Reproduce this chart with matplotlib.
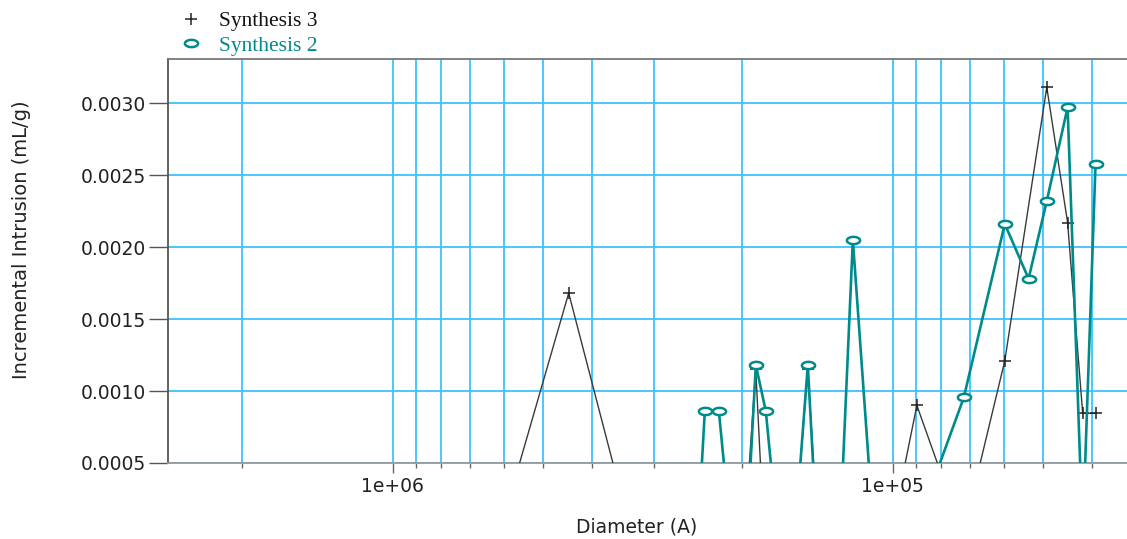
import numpy as np
import matplotlib

matplotlib.use("Agg")
import matplotlib.pyplot as plt  # noqa: E402
from matplotlib.lines import Line2D  # noqa: E402
from matplotlib.path import Path  # noqa: E402
from matplotlib.ticker import FixedLocator, NullFormatter  # noqa: E402

# pore diameter (A) and incremental intrusion (mL/g)
diam_s3 = [6.14e5, 4.45e5, 3.33e5, 1.98e5, 1.88e5, 1.81e5, 1.57e5, 1.48e5,
           1.41e5, 1.01e5, 8.95e4, 7.24e4, 5.97e4, 4.92e4, 4.47e4, 4.17e4, 3.93e4]
intr_s3 = [0.0, 0.00168, 0.0, 0.0, 0.00115, 0.0, 0.0, 0.00115,
           0.0, 0.0, 0.00090, 0.0, 0.00121, 0.00311, 0.00217, 0.000845, 0.000845]

diam_s2 = [2.455e5, 2.377e5, 2.228e5, 2.109e5, 1.96e5, 1.879e5, 1.795e5, 1.698e5,
           1.57e5, 1.479e5, 1.419e5, 1.276e5, 1.202e5, 1.091e5, 9.08e4, 7.21e4,
           5.97e4, 5.35e4, 4.92e4, 4.47e4, 4.17e4, 3.93e4]
intr_s2 = [0.0, 0.00086, 0.00086, 0.0, 0.0, 0.00118, 0.00086, 0.0,
           0.0, 0.00118, 0.0, 0.0, 0.00205, 0.0, 0.0, 0.000955,
           0.00216, 0.00178, 0.00232, 0.00297, 0.0, 0.00258]

series_names = ["Synthesis 3", "Synthesis 2"]
y_ticks = [0.0005, 0.0010, 0.0015, 0.0020, 0.0025, 0.0030]
x_major = [1e6, 1e5]
x_minor = [2e6, 9e5, 8e5, 7e5, 6e5, 5e5, 4e5, 3e5, 2e5,
           9e4, 8e4, 7e4, 6e4, 5e4, 4e4]

BLACK = "#3a3a3a"
TEAL = "#008b8b"
GRID = "#3cc4ff"

# flat open oval used as the Synthesis 2 marker
t = np.linspace(0, 2 * np.pi, 40)
oval = Path(np.column_stack([np.cos(t), 0.55 * np.sin(t)]), closed=True)

fig = plt.figure(figsize=(11.27, 5.39), dpi=100)
fig.patch.set_facecolor("white")
ax = fig.add_axes([168 / 1127, 1 - 463 / 539, 1 - 168 / 1127, (463 - 59) / 539])

ax.plot(diam_s3, intr_s3, color=BLACK, lw=1.0, marker="+", ms=9, mew=1.1,
        mec="#222222", zorder=3)
ax.plot(diam_s2, intr_s2, color=TEAL, lw=1.9, marker=oval, ms=9.5, mew=1.8,
        mfc="white", mec=TEAL, zorder=4)

ax.set_xscale("log")
ax.set_xlim(2.818e6, 3.40e4)
ax.set_ylim(0.0005, 0.003306)

ax.xaxis.set_major_locator(FixedLocator(x_major))
ax.xaxis.set_minor_locator(FixedLocator(x_minor))
ax.xaxis.set_minor_formatter(NullFormatter())
ax.set_xticklabels(["1e+06", "1e+05"])
ax.set_yticks(y_ticks)
ax.set_yticklabels([f"{v:.4f}" for v in y_ticks])

ax.grid(True, which="both", axis="x", color=GRID, lw=1.3, zorder=0)
ax.grid(True, which="major", axis="y", color=GRID, lw=1.3, zorder=0)
ax.set_axisbelow(True)

ax.spines["right"].set_visible(False)
ax.spines["top"].set_color("#777777")
ax.spines["left"].set_color("#555555")
ax.spines["bottom"].set_color("#999999")
for sp in ("top", "left", "bottom"):
    ax.spines[sp].set_linewidth(1.3)

ax.tick_params(axis="y", which="major", length=14, width=1, color="#555555",
               labelsize=13.5, pad=1.5, labelcolor="#222222")
ax.tick_params(axis="x", which="major", length=7, width=1, color="#666666",
               labelsize=13.5, pad=3, labelcolor="#222222")
ax.tick_params(axis="x", which="minor", length=3.5, width=1, color="#666666")

ax.set_ylabel("Incremental Intrusion (mL/g)", fontsize=14, color="#222222")
ax.yaxis.set_label_coords((22 - 168) / (1127 - 168), (463 - 240) / 404)
ax.set_xlabel("Diameter (A)", fontsize=13.5, color="#222222")
ax.xaxis.set_label_coords((637 - 168) / (1127 - 168), (463 - 527) / 404)
ax.xaxis.label.set_va("center")
ax.yaxis.label.set_va("center")

handles = [
    Line2D([], [], ls="none", marker="+", ms=9, mew=1.1, color="#222222"),
    Line2D([], [], ls="none", marker=oval, ms=9.5, mew=1.8, mfc="white", mec=TEAL),
]
leg = fig.legend(handles, series_names, loc="upper left",
                 bbox_to_anchor=(180 / 1127, 1 - 11 / 539), frameon=False,
                 handlelength=1.0, handletextpad=0.8, borderpad=0,
                 borderaxespad=0, labelspacing=0.22,
                 prop={"family": "Liberation Serif", "size": 15.5})
leg.get_texts()[0].set_color("#111111")
leg.get_texts()[1].set_color(TEAL)

fig.savefig("out.png", dpi=100, facecolor="white")
